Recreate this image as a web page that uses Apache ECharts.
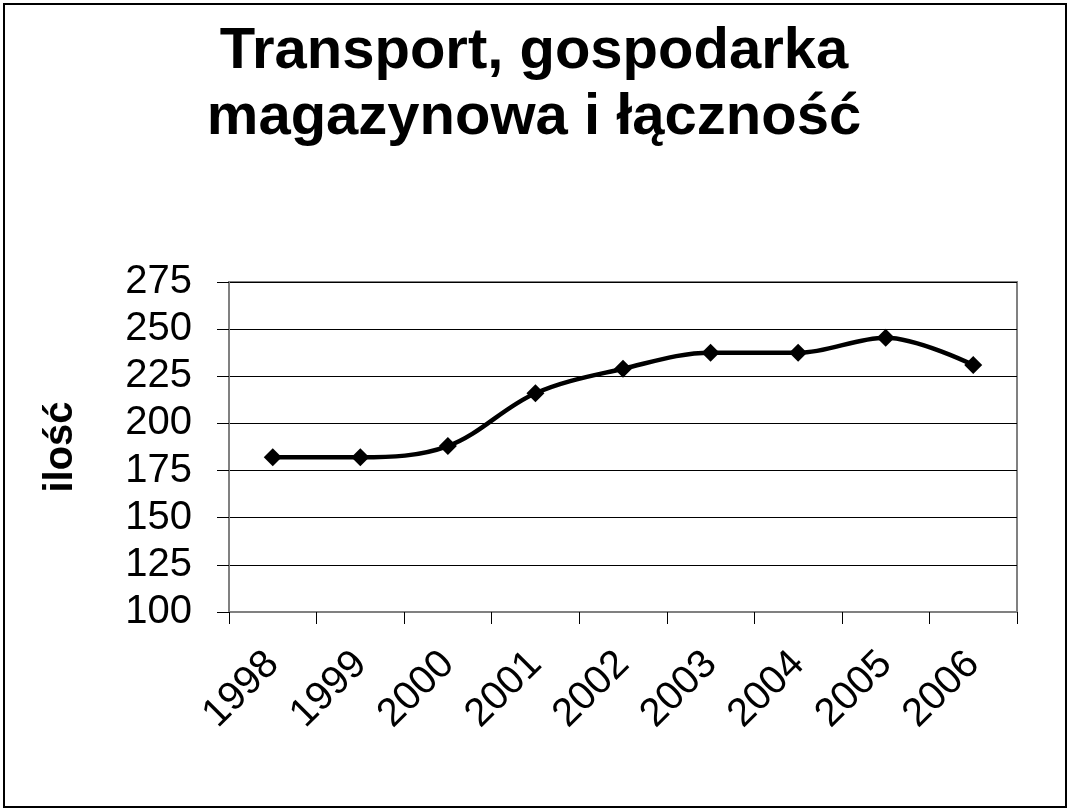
<!DOCTYPE html>
<html>
<head>
<meta charset="utf-8">
<script src="https://cdn.jsdelivr.net/npm/echarts@6/dist/echarts.min.js"></script>
<style>
  html, body { margin: 0; padding: 0; background: #fff; }
  #frame { position: absolute; left: 3px; top: 3px; width: 1060px; height: 801px; border: 2px solid #000; }
  #myChart { position: absolute; left: 0; top: 0; width: 1068px; height: 809px; }
</style>
</head>
<body>
<div id="frame"></div>
<div id="myChart"></div>
<script>
// lata i wartości
var years = ['1998', '1999', '2000', '2001', '2002', '2003', '2004', '2005', '2006'];
var values = [182, 182, 188, 216, 229, 237.5, 237.5, 245.5, 231];

var font = '"Liberation Sans", Arial, sans-serif';
var myChart = echarts.init(document.getElementById('myChart'));
myChart.setOption({
  animation: false,
  title: {
    text: 'Transport, gospodarka\nmagazynowa i łączność',
    left: 'center',
    top: 14,
    textStyle: {
      fontFamily: font,
      fontSize: 58,
      fontWeight: 'bold',
      color: '#000',
      lineHeight: 66
    }
  },
  grid: {
    left: 229,
    right: 51,
    top: 282,
    bottom: 197,
    show: true,
    borderColor: '#808080',
    borderWidth: 2
  },
  xAxis: {
    type: 'category',
    data: years,
    boundaryGap: true,
    axisLine: { lineStyle: { color: '#808080', width: 2 } },
    axisTick: { show: true, length: 12, lineStyle: { color: '#000' } },
    axisLabel: {
      rotate: 45,
      margin: 46,
      padding: [0, 0, 0, 0],
      fontFamily: font,
      fontSize: 40,
      color: '#000',
      interval: 0
    }
  },
  yAxis: {
    type: 'value',
    min: 100,
    max: 275,
    interval: 25,
    name: 'ilość',
    nameLocation: 'middle',
    nameGap: 148,
    nameTextStyle: {
      fontFamily: font,
      fontSize: 40,
      fontWeight: 'bold',
      color: '#000'
    },
    axisLine: { show: true, lineStyle: { color: '#808080', width: 2 } },
    axisTick: { show: true, length: 12, lineStyle: { color: '#000' } },
    axisLabel: {
      margin: 37,
      fontFamily: font,
      fontSize: 40,
      color: '#000'
    },
    splitLine: { lineStyle: { color: '#000', width: 1 } }
  },
  series: [
    {
      type: 'line',
      data: values,
      smooth: 0.35,
      symbol: 'diamond',
      symbolSize: 18,
      itemStyle: { color: '#000' },
      lineStyle: { color: '#000', width: 4.5 }
    }
  ]
});
</script>
</body>
</html>
